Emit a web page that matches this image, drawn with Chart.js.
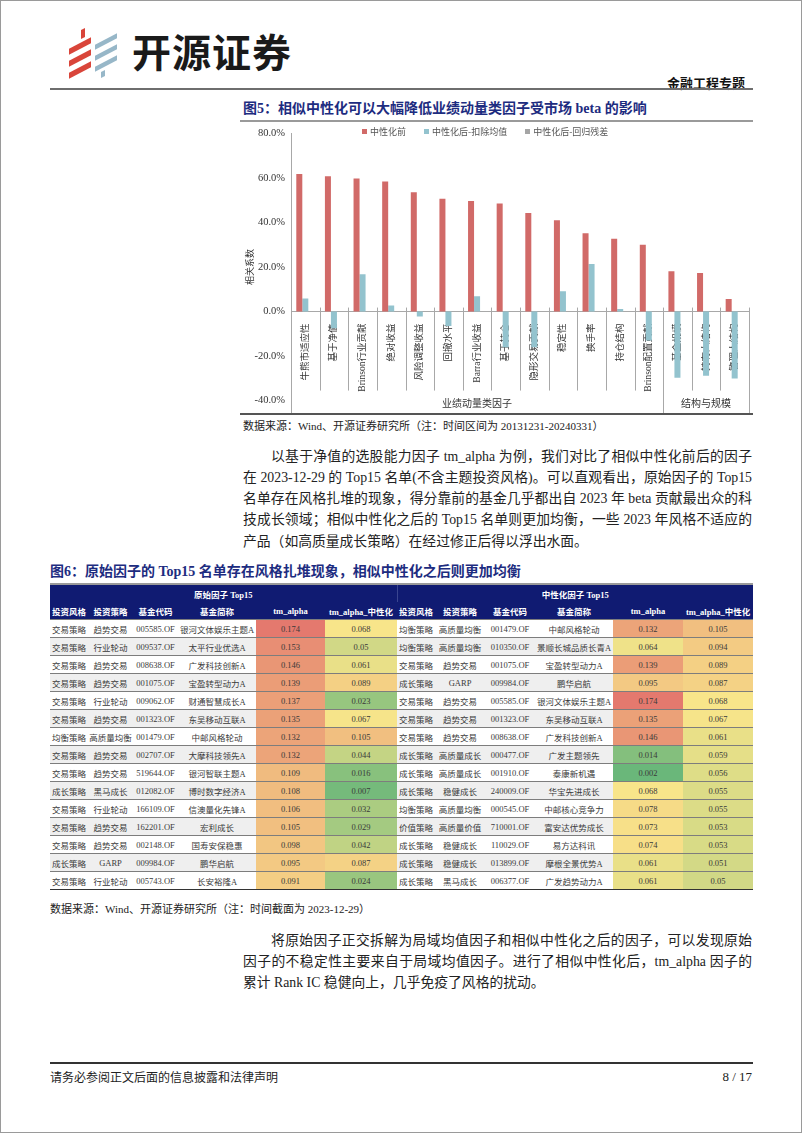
<!DOCTYPE html>
<html>
<head>
<meta charset="utf-8">
<script src="https://cdn.jsdelivr.net/npm/chart.js@4.4.1/dist/chart.umd.min.js"></script>
<style>
html, body { margin: 0; padding: 0; background: #fff; }
#page { position: relative; width: 800px; height: 1131px; border: 1px solid #9a9a9a; overflow: hidden;
        font-family: "Liberation Serif", "Noto Sans CJK SC", serif; color: #222; }
.abs { position: absolute; white-space: nowrap; }
.rule { position: absolute; }
.title { font-family: "Liberation Serif", "Noto Sans CJK SC", serif; font-weight: bold; color: #1d2c80; font-size: 14px; line-height: 18px; }
.para { position: absolute; font-size: 13.8px; line-height: 20px; white-space: nowrap; }
.just { text-align: justify; text-align-last: justify; }
.src { font-size: 11px; line-height: 14px; color: #222; }
.logo-r, .logo-b { position: absolute; transform: skewY(-28deg); }
.logo-r { background: #d9453a; }
.logo-b { background: #97b7c8; }
#legend { position: absolute; top: 125px; left: 361px; font-family: "Noto Sans CJK SC"; font-size: 9px; color: #555; line-height: 12px; }
#legend span.item { margin-right: 18px; }
#legend i { display: inline-block; width: 5px; height: 5px; margin-right: 3px; vertical-align: 1px; }
#tbl { position: absolute; left: 49px; top: 584px; border-collapse: collapse; table-layout: fixed; width: 703px;
       font-family: "Liberation Serif", "Noto Sans CJK SC", serif; font-size: 8.5px; color: #3a3a3a; }
#tbl td { padding: 0; text-align: center; white-space: nowrap; overflow: hidden; }
#tbl tr.h td { background: #101b72; color: #fff; font-weight: bold; height: 17px; }
#tbl tr.d td { height: 17px; border-top: 1.2px solid #7d7d7d; font-size: 8.5px; }
#tbl tr.d.alt td.t { background: #efefef; }
#tbl tr.last td { border-bottom: 1.5px solid #333; }
</style>
</head>
<body>
<div id="page">
  <!-- header -->
  <div class="logo-r" style="left:80px;top:28px;width:4px;height:9px;"></div>
  <div class="logo-r" style="left:68px;top:42px;width:22px;height:6px;"></div>
  <div class="logo-r" style="left:68px;top:54px;width:22px;height:6px;"></div>
  <div class="logo-r" style="left:68px;top:66px;width:22px;height:6px;"></div>
  <div class="logo-b" style="left:94px;top:38px;width:22px;height:5px;"></div>
  <div class="logo-b" style="left:94px;top:49px;width:22px;height:5px;"></div>
  <div class="logo-b" style="left:94px;top:60px;width:22px;height:5px;"></div>
  <div class="logo-b" style="left:100px;top:70px;width:4px;height:6px;"></div>
  <div class="abs" style="left:131px;top:26px;font-family:'Noto Sans CJK SC';font-weight:bold;font-size:39px;line-height:46px;color:#1a1a1a;letter-spacing:1px;">开源证券</div>
  <div class="abs" style="right:56px;top:73px;font-family:'Noto Sans CJK SC';font-weight:bold;font-size:13px;line-height:18px;color:#111;">金融工程专题</div>
  <div class="rule" style="left:49px;top:87px;width:703px;height:2px;background:#6e6e6e;"></div>

  <!-- figure 5 -->
  <div class="abs title" style="left:242px;top:99px;">图5：相似中性化可以大幅降低业绩动量类因子受市场 beta 的影响</div>
  <div class="rule" style="left:239px;top:119px;width:513px;height:1.5px;background:#9a9a9a;"></div>
  <canvas id="c5" width="516" height="292" style="position:absolute;left:237px;top:120px;"></canvas>
  <div id="legend"></div>
  <div class="rule" style="left:239px;top:412px;width:513px;height:1.5px;background:#555;"></div>
  <div class="abs src" style="left:242px;top:418px;">数据来源：Wind、开源证券研究所（注：时间区间为 20131231-20240331）</div>

  <div class="para just" style="left:270px;top:446px;width:481px;">以基于净值的选股能力因子 tm_alpha 为例，我们对比了相似中性化前后的因子</div>
  <div class="para just" style="left:242px;top:467px;width:509px;">在 2023-12-29 的 Top15 名单(不含主题投资风格)。可以直观看出，原始因子的 Top15</div>
  <div class="para just" style="left:242px;top:488px;width:509px;">名单存在风格扎堆的现象，得分靠前的基金几乎都出自 2023 年 beta 贡献最出众的科</div>
  <div class="para just" style="left:242px;top:509px;width:509px;">技成长领域；相似中性化之后的 Top15 名单则更加均衡，一些 2023 年风格不适应的</div>
  <div class="para" style="left:242px;top:531px;">产品（如高质量成长策略）在经过修正后得以浮出水面。</div>

  <!-- figure 6 -->
  <div class="abs title" style="left:49px;top:562px;">图6：原始因子的 Top15 名单存在风格扎堆现象，相似中性化之后则更加均衡</div>
  <div class="rule" style="left:49px;top:582px;width:703px;height:1.5px;background:#9a9a9a;"></div>
  <table id="tbl"></table>
  <div class="abs src" style="left:49px;top:901px;">数据来源：Wind、开源证券研究所（注：时间截面为 2023-12-29）</div>

  <div class="para just" style="left:270px;top:930px;width:481px;">将原始因子正交拆解为局域均值因子和相似中性化之后的因子，可以发现原始</div>
  <div class="para just" style="left:242px;top:951px;width:509px;">因子的不稳定性主要来自于局域均值因子。进行了相似中性化后，tm_alpha 因子的</div>
  <div class="para" style="left:242px;top:972px;">累计 Rank IC 稳健向上，几乎免疫了风格的扰动。</div>

  <!-- footer -->
  <div class="rule" style="left:49px;top:1061px;width:703px;height:1.5px;background:#333;"></div>
  <div class="abs" style="left:49px;top:1069px;font-size:12px;line-height:16px;">请务必参阅正文后面的信息披露和法律声明</div>
  <div class="abs" style="right:49px;top:1068px;font-size:13px;line-height:16px;">8 / 17</div>
</div>

<script>
// figure 5 data (correlation, %)
var categories = ['牛熊市适应性', '基于净值', 'Brinson行业贡献', '绝对收益', '风险调整收益', '回撤水平', 'Barra行业收益',
  '基于持仓', '隐形交易贡献', '稳定性', '换手率', '持仓结构', 'Brinson配置贡献', '基金规模', '持有人结构', '管理人结构'];
var seriesNames = ['中性化前', '中性化后-扣除均值', '中性化后-回归残差'];
var seriesColors = ['#d16a68', '#93c3ce', '#a5a5a5'];
var beforeNeutral = [61.7, 60.7, 59.7, 58.4, 53.5, 50.6, 49.6, 48.5, 44.2, 41.0, 35.1, 32.7, 30.0, 18.1, 17.3, 5.6];
var afterDemean = [5.9, -7.5, 16.7, 2.7, -2.2, -6.5, 6.9, -16.0, -16.0, 9.1, 21.3, 1.1, -13.0, -29.7, -28.8, -30.0];
var afterResid = [0, 0, 0, 0, 0, 0, 0, 0, 0, 0, 0, 0, 0, 0, 0, 0];
var groupNames = ['业绩动量类因子', '结构与规模'];
var groupSizes = [13, 3];
var yMin = -40, yMax = 80, yStep = 20;

// figure 6 table data
var leftStyle = ['交易策略', '交易策略', '交易策略', '交易策略', '交易策略', '交易策略', '均衡策略', '交易策略', '交易策略', '成长策略', '交易策略', '交易策略', '交易策略', '成长策略', '交易策略'];
var leftStrategy = ['趋势交易', '行业轮动', '趋势交易', '趋势交易', '行业轮动', '趋势交易', '高质量均衡', '趋势交易', '趋势交易', '黑马成长', '行业轮动', '趋势交易', '趋势交易', 'GARP', '行业轮动'];
var leftCode = ['005585.OF', '009537.OF', '008638.OF', '001075.OF', '009062.OF', '001323.OF', '001479.OF', '002707.OF', '519644.OF', '012082.OF', '166109.OF', '162201.OF', '002148.OF', '009984.OF', '005743.OF'];
var leftName = ['银河文体娱乐主题A', '太平行业优选A', '广发科技创新A', '宝盈转型动力A', '财通智慧成长A', '东吴移动互联A', '中邮风格轮动', '大摩科技领先A', '银河智联主题A', '博时数字经济A', '信澳量化先锋A', '宏利成长', '国寿安保稳惠', '鹏华启航', '长安裕隆A'];
var leftAlpha = [0.174, 0.153, 0.146, 0.139, 0.137, 0.135, 0.132, 0.132, 0.109, 0.108, 0.106, 0.105, 0.098, 0.095, 0.091];
var leftNeutral = [0.068, 0.05, 0.061, 0.089, 0.023, 0.067, 0.105, 0.044, 0.016, 0.007, 0.032, 0.029, 0.042, 0.087, 0.024];

var rightStyle = ['均衡策略', '均衡策略', '交易策略', '成长策略', '交易策略', '交易策略', '交易策略', '成长策略', '成长策略', '成长策略', '均衡策略', '价值策略', '成长策略', '成长策略', '成长策略'];
var rightStrategy = ['高质量均衡', '高质量均衡', '趋势交易', 'GARP', '趋势交易', '趋势交易', '趋势交易', '高质量成长', '高质量成长', '稳健成长', '高质量均衡', '高质量价值', '稳健成长', '稳健成长', '黑马成长'];
var rightCode = ['001479.OF', '010350.OF', '001075.OF', '009984.OF', '005585.OF', '001323.OF', '008638.OF', '000477.OF', '001910.OF', '240009.OF', '000545.OF', '710001.OF', '110029.OF', '013899.OF', '006377.OF'];
var rightName = ['中邮风格轮动', '景顺长城品质长青A', '宝盈转型动力A', '鹏华启航', '银河文体娱乐主题A', '东吴移动互联A', '广发科技创新A', '广发主题领先', '泰康新机遇', '华宝先进成长', '中邮核心竞争力', '富安达优势成长', '易方达科讯', '摩根全景优势A', '广发趋势动力A'];
var rightAlpha = [0.132, 0.064, 0.139, 0.095, 0.174, 0.135, 0.146, 0.014, 0.002, 0.068, 0.078, 0.073, 0.074, 0.061, 0.061];
var rightNeutral = [0.105, 0.094, 0.089, 0.087, 0.068, 0.067, 0.061, 0.059, 0.056, 0.055, 0.055, 0.053, 0.053, 0.051, 0.05];

var tableHeads = ['原始因子 Top15', '中性化因子 Top15'];
var colHeads = ['投资风格', '投资策略', '基金代码', '基金简称', 'tm_alpha', 'tm_alpha_中性化'];
var colWidths = [38, 45, 45, 78, 69, 72, 38, 50, 50, 78, 70, 70];

// legend
var legend = document.getElementById('legend');
seriesNames.forEach(function (name, i) {
  var s = document.createElement('span');
  s.className = 'item';
  s.innerHTML = '<i style="background:' + seriesColors[i] + '"></i>' + name;
  legend.appendChild(s);
});

// separators and group labels under the zero line
var groupPlugin = {
  id: 'groups',
  afterDraw: function (chart) {
    var ctx = chart.ctx, x = chart.scales.x, y = chart.scales.y;
    var zeroY = y.getPixelForValue(0);
    var step = x.getPixelForValue(1) - x.getPixelForValue(0);
    var ends = [], acc = 0;
    groupSizes.forEach(function (n) { acc += n; ends.push(acc); });
    ctx.save();
    ctx.strokeStyle = '#a8a8a8';
    ctx.lineWidth = 1;
    for (var i = 1; i <= categories.length; i++) {
      var bx = Math.round(x.getPixelForValue(i - 1) + step / 2) + 0.5;
      ctx.beginPath();
      ctx.moveTo(bx, zeroY - 4);
      ctx.lineTo(bx, ends.indexOf(i) >= 0 ? chart.height : zeroY + 79);
      ctx.stroke();
    }
    var ax = Math.round(chart.chartArea.left) + 0.5;
    ctx.beginPath();
    ctx.moveTo(ax, chart.chartArea.bottom);
    ctx.lineTo(ax, chart.height);
    ctx.stroke();
    ctx.fillStyle = '#333';
    ctx.font = '10px "Noto Sans CJK SC"';
    ctx.textAlign = 'center';
    ctx.textBaseline = 'middle';
    var start = 0;
    groupSizes.forEach(function (n, g) {
      var l = x.getPixelForValue(start) - step / 2;
      var r = x.getPixelForValue(start + n - 1) + step / 2;
      ctx.fillText(groupNames[g], (l + r) / 2, zeroY + 92);
      start += n;
    });
    ctx.restore();
  }
};

var chart5 = new Chart(document.getElementById('c5'), {
  type: 'bar',
  data: {
    labels: categories,
    datasets: [
      { label: seriesNames[0], data: beforeNeutral, backgroundColor: seriesColors[0] },
      { label: seriesNames[1], data: afterDemean, backgroundColor: seriesColors[1] },
      { label: seriesNames[2], data: afterResid, backgroundColor: seriesColors[2] }
    ]
  },
  options: {
    responsive: false,
    animation: false,
    layout: { padding: { left: 0, right: 5, top: 8, bottom: 8 } },
    datasets: { bar: { categoryPercentage: 0.63, barPercentage: 1 } },
    plugins: { legend: { display: false }, tooltip: { enabled: false } },
    scales: {
      x: {
        position: { y: 0 },
        z: 1,
        grid: { display: false },
        border: { color: '#a8a8a8' },
        ticks: {
          autoSkip: false, minRotation: 90, maxRotation: 90, padding: 4, color: '#333',
          font: { family: '"Liberation Serif", "Noto Sans CJK SC"', size: 9.5 }
        }
      },
      y: {
        min: yMin, max: yMax,
        afterFit: function (s) { s.width = 53; },
        grid: { display: false, drawTicks: false },
        border: { color: '#a8a8a8' },
        ticks: {
          stepSize: yStep, padding: 6, color: '#333',
          font: { family: '"Liberation Serif"', size: 10.5 },
          callback: function (v) { return v.toFixed(1) + '%'; }
        },
        title: {
          display: true, text: '相关系数', color: '#333',
          font: { family: '"Noto Sans CJK SC"', size: 9 },
          padding: { top: 6, bottom: 0 }
        }
      }
    }
  },
  plugins: [groupPlugin]
});

// heat colours for the table (green - yellow - red)
var heatLo = 0.002, heatMid = 0.068, heatHi = 0.174;
var cGreen = [106, 183, 122], cYellow = [248, 229, 138], cRed = [228, 121, 110];
function heat(v) {
  var a, b, t;
  if (v <= heatMid) { a = cGreen; b = cYellow; t = (v - heatLo) / (heatMid - heatLo); }
  else { a = cYellow; b = cRed; t = (v - heatMid) / (heatHi - heatMid); }
  t = Math.max(0, Math.min(1, t));
  return 'rgb(' + a.map(function (c, k) { return Math.round(c + (b[k] - c) * t); }).join(',') + ')';
}

var tbl = document.getElementById('tbl');
var html = '<colgroup>' + colWidths.map(function (w) { return '<col style="width:' + w + 'px">'; }).join('') + '</colgroup>';
html += '<tr class="h"><td colspan="6" style="border-right:1px solid #3a4590">' + tableHeads[0] + '</td><td colspan="6">' + tableHeads[1] + '</td></tr>';
html += '<tr class="h">' + colHeads.concat(colHeads).map(function (h) { return '<td>' + h + '</td>'; }).join('') + '</tr>';
for (var r = 0; r < leftCode.length; r++) {
  var cls = 'd' + (r % 2 ? ' alt' : '') + (r === leftCode.length - 1 ? ' last' : '');
  html += '<tr class="' + cls + '">' +
    '<td class="t">' + leftStyle[r] + '</td><td class="t">' + leftStrategy[r] + '</td><td class="t">' + leftCode[r] + '</td><td class="t">' + leftName[r] + '</td>' +
    '<td style="background:' + heat(leftAlpha[r]) + '">' + leftAlpha[r] + '</td><td style="background:' + heat(leftNeutral[r]) + '">' + leftNeutral[r] + '</td>' +
    '<td class="t">' + rightStyle[r] + '</td><td class="t">' + rightStrategy[r] + '</td><td class="t">' + rightCode[r] + '</td><td class="t">' + rightName[r] + '</td>' +
    '<td style="background:' + heat(rightAlpha[r]) + '">' + rightAlpha[r] + '</td><td style="background:' + heat(rightNeutral[r]) + '">' + rightNeutral[r] + '</td>' +
    '</tr>';
}
tbl.innerHTML = html;
</script>
</body>
</html>
